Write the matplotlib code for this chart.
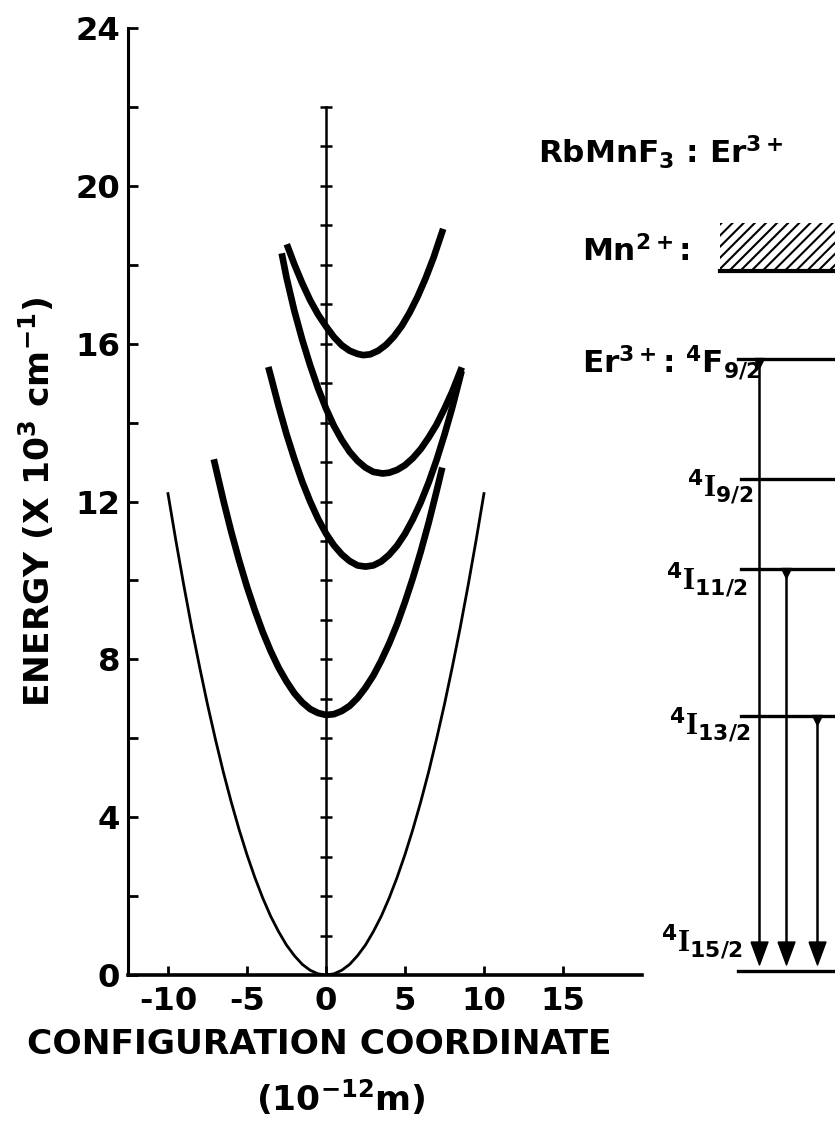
import matplotlib
matplotlib.use('Agg')
import matplotlib.pyplot as plt
from matplotlib import font_manager as fm
from matplotlib.patches import Rectangle
import numpy as np

# ---------------- data ----------------
GROUND_X = [-10, -9.5, -9, -8.5, -8, -7.5, -7, -6.5, -6, -5.5, -5, -4.5, -4, -3.5, -3, -2.5, -2, -1.5, -1, -0.5,
            0, 0.5, 1, 1.5, 2, 2.5, 3, 3.5, 4, 4.5, 5, 5.5, 6, 6.5, 7, 7.5, 8, 8.5, 9, 9.5, 10]
GROUND_E = [12.2, 11.01, 9.88, 8.81, 7.81, 6.86, 5.98, 5.15, 4.39, 3.69, 3.05, 2.47, 1.95, 1.49, 1.10, 0.76, 0.49,
            0.27, 0.12, 0.03, 0.0, 0.03, 0.12, 0.27, 0.49, 0.76, 1.10, 1.49, 1.95, 2.47, 3.05, 3.69, 4.39, 5.15,
            5.98, 6.86, 7.81, 8.81, 9.88, 11.01, 12.2]

I13_X = [-7.1, -6.5, -6, -5.5, -5, -4.5, -4, -3.5, -3, -2.5, -2, -1.5, -1, -0.5, 0, 0.5, 1, 1.5, 2, 2.5,
         3, 3.5, 4, 4.5, 5, 5.5, 6, 6.5, 7, 7.36]
I13_E = [13.07, 12.04, 11.24, 10.51, 9.84, 9.24, 8.69, 8.21, 7.79, 7.44, 7.14, 6.91, 6.74, 6.64, 6.59, 6.61,
         6.69, 6.82, 7.02, 7.28, 7.59, 7.97, 8.40, 8.89, 9.45, 10.06, 10.73, 11.46, 12.26, 12.86]

I11_X = [-3.65, -3.5, -3, -2.5, -2, -1.5, -1, -0.5, 0, 0.5, 1, 1.5, 2, 2.5, 3, 3.5, 4, 4.5, 5, 5.5,
         6, 6.5, 7, 7.5, 8, 8.59]
I11_E = [15.41, 15.19, 14.42, 13.71, 13.08, 12.50, 12.00, 11.56, 11.19, 10.89, 10.66, 10.49, 10.38, 10.35,
         10.38, 10.48, 10.65, 10.88, 11.18, 11.55, 11.98, 12.48, 13.05, 13.69, 14.39, 15.31]

I9_X = [-2.8, -2.5, -2, -1.5, -1, -0.5, 0, 0.5, 1, 1.5, 2, 2.5, 3, 3.59, 4, 4.5, 5, 5.5, 6, 6.5,
        7, 7.5, 8, 8.6]
I9_E = [18.29, 17.68, 16.83, 16.10, 15.45, 14.87, 14.36, 13.92, 13.56, 13.26, 13.03, 12.86, 12.75, 12.71,
        12.73, 12.80, 12.92, 13.10, 13.33, 13.62, 13.95, 14.35, 14.79, 15.40]

F9_X = [-2.48, -2, -1.5, -1, -0.5, 0, 0.5, 1, 1.5, 2, 2.36, 2.8, 3.3, 3.8, 4.3, 4.8, 5.3, 5.8, 6.3, 6.8, 7.42]
F9_E = [18.52, 18.01, 17.53, 17.10, 16.74, 16.44, 16.17, 15.96, 15.82, 15.74, 15.71, 15.73, 15.82, 15.97,
        16.18, 16.45, 16.79, 17.19, 17.65, 18.17, 18.91]

Y_MAJOR = [0, 4, 8, 12, 16, 20, 24]
Y_LABELS = ['0', '4', '8', '12', '16', '20', '24']
Y_MINOR = [2, 6, 10, 14, 18, 22]
X_TICKS = [-10, -5, 0, 5, 10, 15]
X_LABELS = ['-10', '-5', '0', '5', '10', '15']
REF_TICKS = list(range(1, 23))   # ticks on the x=0 reference line

LEVEL_LABELS = [r'${}^{4}\mathrm{I}_{9/2}$', r'${}^{4}\mathrm{I}_{11/2}$',
                r'${}^{4}\mathrm{I}_{13/2}$', r'${}^{4}\mathrm{I}_{15/2}$']
LEVEL_E = [15.60, 12.56, 10.29, 6.56, 0.10]      # 4F9/2, 4I9/2, 4I11/2, 4I13/2, 4I15/2
LEVEL_X0 = [26.1, 26.3, 26.3, 26.3, 26.1]
ARROW_X = [27.42, 29.11, 31.06]
ARROW_FROM = [15.60, 10.29, 6.56]
MN_BAND = [17.85, 19.05]
MN_X0 = 24.94

# ---------------- fonts ----------------
names = {f.name for f in fm.fontManager.ttflist}
if 'Liberation Sans Narrow' in names:
    FONT, SC = 'Liberation Sans Narrow', 1.0
else:
    FONT, SC = 'DejaVu Sans', 0.8
plt.rcParams['font.family'] = [FONT, 'DejaVu Sans']
plt.rcParams['font.weight'] = 'bold'
plt.rcParams['mathtext.fontset'] = 'custom'
plt.rcParams['mathtext.default'] = 'regular'
plt.rcParams['mathtext.rm'] = 'Liberation Serif:bold'
plt.rcParams['axes.unicode_minus'] = False
plt.rcParams['hatch.linewidth'] = 1.5

FS_TICK = 29 * SC
FS_TEXT = 28 * SC
FS_LAB = 31 * SC

W, H = 835, 1128
fig = plt.figure(figsize=(W / 100, H / 100), dpi=100)
ax = fig.add_axes([128 / W, (H - 975) / H, (W - 128) / W, (975 - 28) / H])
ax.set_xlim(-12.53, 32.22)
ax.set_ylim(0, 24)
for s in ['top', 'right']:
    ax.spines[s].set_visible(False)
ax.spines['left'].set_bounds(0, 24)
ax.spines['bottom'].set_bounds(-12.53, 20)
ax.spines['left'].set_linewidth(2.2)
ax.spines['bottom'].set_linewidth(2.6)

ax.set_yticks(Y_MAJOR)
ax.set_yticklabels(Y_LABELS)
ax.set_yticks(Y_MINOR, minor=True)
ax.tick_params(axis='y', which='both', direction='in', length=7.5, width=2, pad=5.5, labelsize=FS_TICK)
ax.set_xticks(X_TICKS)
ax.set_xticklabels(X_LABELS)
ax.tick_params(axis='x', which='both', direction='in', length=6.5, width=2, pad=8, labelsize=FS_TICK)

# reference vertical line at x = 0
ax.plot([0, 0], [0, REF_TICKS[-1]], color='k', lw=1.8)
ax.plot(np.zeros(len(REF_TICKS)), REF_TICKS, ls='none', marker='_', ms=8, mew=1.8, color='k')

# potential curves
ax.plot(GROUND_X, GROUND_E, color='k', lw=2.0, solid_joinstyle='round')
for cx, ce in [(I13_X, I13_E), (I11_X, I11_E), (I9_X, I9_E), (F9_X, F9_E)]:
    ax.plot(cx, ce, color='k', lw=4.8, solid_joinstyle='round', solid_capstyle='butt')

# energy level diagram
for x0, e in zip(LEVEL_X0, LEVEL_E):
    ax.plot([x0, 33], [e, e], color='k', lw=2.4, clip_on=True)
tri = [(-0.37, 0.5), (0.37, 0.5), (0, -0.5), (-0.37, 0.5)]
for xa, e0 in zip(ARROW_X, ARROW_FROM):
    ax.plot([xa, xa], [e0, LEVEL_E[-1] + 0.3], color='k', lw=1.8)
    ax.plot([xa], [LEVEL_E[-1] + 0.47], marker=tri, ms=16.5, color='k', ls='none')
    ax.plot([xa], [e0 - 0.1], marker='v', ms=6.5, color='k', ls='none')

# Mn2+ band
ax.add_patch(Rectangle((MN_X0, MN_BAND[0]), 33 - MN_X0, MN_BAND[1] - MN_BAND[0],
                       facecolor='none', edgecolor='k', hatch='///', lw=0))
ax.plot([MN_X0, 33], [MN_BAND[0], MN_BAND[0]], color='k', lw=3)

# texts
ax.text(13.42, 20.58, r'$RbMnF_{3}$ : $Er^{3+}$', fontsize=FS_TEXT, ha='left', va='baseline')
ax.text(16.18, 18.08, r'$Mn^{2+}$:', fontsize=FS_TEXT, ha='left', va='baseline')
ax.text(16.18, 15.25, r'$Er^{3+}$: ${}^{4}F_{9/2}$', fontsize=FS_TEXT, ha='left', va='baseline')
lab_pos = [(27.03, 12.12), (26.71, 9.76), (26.84, 6.08), (26.39, 0.58)]
for (lx, ly), txt in zip(lab_pos, LEVEL_LABELS):
    ax.text(lx, ly, txt, fontsize=FS_TEXT, ha='right', va='baseline')

fig.text(37 / W, 1 - 502 / H, r'ENERGY (X 10$^{3}$ cm$^{-1}$)', rotation=90,
         fontsize=FS_LAB, ha='center', va='center')
fig.text(319 / W, 1 - 1045 / H, 'CONFIGURATION COORDINATE', fontsize=FS_LAB, ha='center', va='center')
fig.text(341 / W, 1 - 1098 / H, r'(10$^{-12}$m)', fontsize=FS_LAB, ha='center', va='center')

fig.savefig('out.png', dpi=100)
